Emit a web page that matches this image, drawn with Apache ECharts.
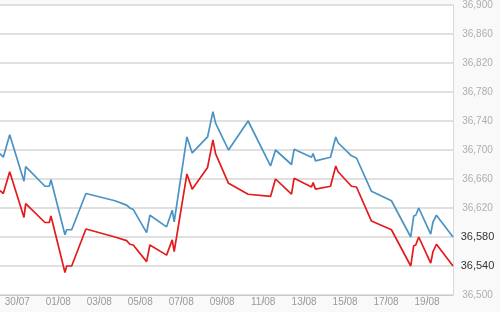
<!DOCTYPE html>
<html>
<head>
<meta charset="utf-8">
<script src="https://cdn.jsdelivr.net/npm/echarts@6/dist/echarts.min.js"></script>
<style>html,body{margin:0;padding:0;background:#f9f9f9}#c{width:500px;height:312px}</style>
</head>
<body>
<div id="c"></div>
<script>
// x = days since 30/07
const days = [-0.844, -0.683, -0.37, 0.327, 0.41, 1.351, 1.561, 1.644, 2.327, 2.41, 2.654, 3.351, 4.766, 5.337, 5.498, 5.659, 6.312, 6.473, 7.288, 7.561, 7.659, 8.28, 8.537, 9.288, 9.55, 9.678, 10.31, 11.268, 12.361, 12.605, 13.385, 13.512, 14.361, 14.439, 14.556, 15.288, 15.546, 15.659, 16.312, 16.556, 17.288, 18.263, 19.205, 19.351, 19.449, 19.595, 20.18, 20.293, 20.459, 21.268];
const blueValues = [36695, 36690, 36721, 36657, 36677, 36650, 36650, 36659, 36583, 36590, 36590, 36640, 36630, 36624, 36620, 36618, 36586, 36610, 36594, 36617, 36601, 36718, 36696, 36718, 36753, 36737, 36700, 36740, 36678, 36700, 36680, 36701, 36690, 36695, 36685, 36690, 36718, 36710, 36692, 36689, 36643, 36630, 36580, 36609, 36610, 36620, 36584, 36601, 36610, 36580];
const redValues = [36644, 36640, 36670, 36607, 36626, 36600, 36600, 36609, 36531, 36540, 36540, 36591, 36580, 36575, 36570, 36569, 36546, 36569, 36555, 36576, 36560, 36667, 36646, 36676, 36714, 36695, 36654, 36639, 36636, 36660, 36639, 36661, 36649, 36655, 36646, 36650, 36678, 36670, 36650, 36649, 36602, 36590, 36540, 36568, 36569, 36580, 36544, 36560, 36570, 36540];
const tickDays = [0, 2, 4, 6, 8, 10, 12, 14, 16, 18, 20];
const tickLabels = ['30/07', '01/08', '03/08', '05/08', '07/08', '09/08', '11/08', '13/08', '15/08', '17/08', '19/08'];
const yTicks = [36500, 36540, 36580, 36620, 36660, 36700, 36740, 36780, 36820, 36860, 36900];

const lastBlue = blueValues[blueValues.length - 1];
const lastRed = redValues[redValues.length - 1];
const fmt = v => String(v).replace(/\B(?=(\d{3})+(?!\d))/g, ',');

const chart = echarts.init(document.getElementById('c'), null, {renderer: 'canvas'});
chart.setOption({
  backgroundColor: '#f9f9f9',
  animation: false,
  grid: {left: 0, right: 47, top: 5, bottom: 17, show: true, backgroundColor: '#fff', borderWidth: 0},
  xAxis: {
    type: 'value', min: days[0], max: days[days.length - 1],
    axisLine: {show: true, onZero: false, lineStyle: {color: '#c3ccd8', width: 1}},
    axisTick: {show: true, customValues: tickDays, length: 8, lineStyle: {color: '#c8c8c8'}},
    axisLabel: {customValues: tickDays, margin: 2, color: '#9a9a9a', fontSize: 10, fontFamily: 'Liberation Sans, Arial, sans-serif',
      formatter: v => tickLabels[tickDays.indexOf(Math.round(v))] || ''},
    splitLine: {show: false}
  },
  yAxis: {
    type: 'value', position: 'right', min: 36500, max: 36900, interval: 40,
    axisLine: {show: true, onZero: false, lineStyle: {color: '#d8d8d8', width: 1}},
    axisTick: {show: false, customValues: yTicks},
    splitLine: {show: true, lineStyle: {color: '#d6d6d6', width: 1.5}},
    axisLabel: {
      customValues: yTicks, margin: 24.5, align: 'center',
      formatter: v => (v === lastBlue || v === lastRed) ? '{hi|' + fmt(v) + '}' : '{lo|' + fmt(v) + '}',
      rich: {
        lo: {color: '#aeaeae', fontSize: 10, fontFamily: 'Liberation Sans, Arial, sans-serif', align: 'center'},
        hi: {color: '#333', fontSize: 11, fontFamily: 'Liberation Sans, Arial, sans-serif', align: 'center'}
      }
    }
  },
  series: [
    {type: 'line', data: days.map((d, i) => [d, blueValues[i]]), showSymbol: false, symbol: 'none',
      lineStyle: {color: '#4a93c4', width: 1.7}, z: 2},
    {type: 'line', data: days.map((d, i) => [d, redValues[i]]), showSymbol: false, symbol: 'none',
      lineStyle: {color: '#e41a1c', width: 1.7}, z: 3}
  ]
});
</script>
</body>
</html>
